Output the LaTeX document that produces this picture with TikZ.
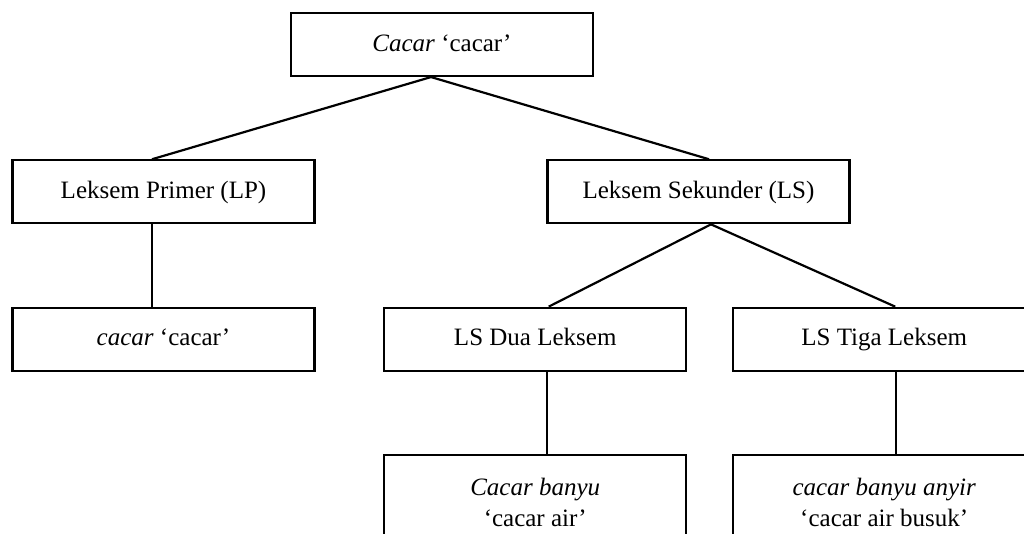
\documentclass[tikz,border=0pt]{standalone}
\usepackage{fontspec}
\setmainfont{Liberation Serif}
\begin{document}
\begin{tikzpicture}[x=1pt,y=-1pt,
  box/.style={draw=black,line width=2.1pt,rectangle,minimum width=302pt,minimum height=63pt,inner sep=0pt},
  lbl/.style={anchor=base,inner sep=0pt,font=\fontsize{25}{30}\selectfont},
  conn/.style={draw=black,line width=2.2pt}]
\useasboundingbox (0,0) rectangle (1024,533);
\clip (0,0) rectangle (1024,533);
% boxes
\node[box] (root) at (442,44.5) {};
\node[box] (lp) at (163.5,191.8) {};
\node[box] (ls) at (698.5,191.8) {};
\node[box] (lpc) at (163.5,339.2) {};
\node[box] (dua) at (535.2,339.2) {};
\node[box] (tiga) at (884.2,339.2) {};
\node[box,minimum height=110pt] (duab) at (535.2,510) {};
\node[box,minimum height=110pt] (tigab) at (884.2,510) {};
% labels
\node[lbl] (rootT) at (442,51) {\textit{Cacar} ‘cacar’};
\node[lbl] (lpT) at (163.5,198) {Leksem Primer (LP)};
\node[lbl] (lsT) at (698.5,198) {Leksem Sekunder (LS)};
\node[lbl] (lpcT) at (163.5,345) {\textit{cacar} ‘cacar’};
\node[lbl] (duaT) at (535.2,345) {LS Dua Leksem};
\node[lbl] (tigaT) at (884.2,345) {LS Tiga Leksem};
\node[lbl] (duabT1) at (535.2,495) {\textit{Cacar banyu}};
\node[lbl] (duabT2) at (535.2,526) {‘cacar air’};
\node[lbl] (tigabT1) at (884.2,495) {\textit{cacar banyu anyir}};
\node[lbl] (tigabT2) at (884.2,526) {‘cacar air busuk’};
% connectors
\draw[conn] ([xshift=-11pt]root.south) -- ([xshift=-11.5pt]lp.north);
\draw[conn] ([xshift=-11pt]root.south) -- ([xshift=10.5pt]ls.north);
\draw[conn] ([xshift=-11.5pt]lp.south) -- ([xshift=-11.5pt]lpc.north);
\draw[conn] ([xshift=12.5pt]ls.south) -- ([xshift=13.5pt]dua.north);
\draw[conn] ([xshift=12.5pt]ls.south) -- ([xshift=11pt]tiga.north);
\draw[conn] ([xshift=12pt]dua.south) -- ([xshift=12pt]duab.north);
\draw[conn] ([xshift=12pt]tiga.south) -- ([xshift=12pt]tigab.north);
\end{tikzpicture}
\end{document}
